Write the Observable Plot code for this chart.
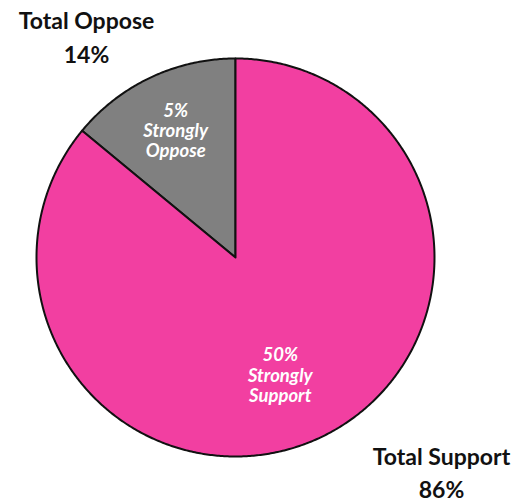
<!DOCTYPE html>
<html>
<head>
<meta charset="utf-8">
<script src="https://cdn.jsdelivr.net/npm/d3@7"></script>
<script src="https://cdn.jsdelivr.net/npm/@observablehq/plot@0.6"></script>
<style>
  html, body { margin: 0; padding: 0; background: #fff; }
  #chart svg { display: block; }
</style>
</head>
<body>
<div id="chart"></div>
<script>
// Data
const categories = ["Total Oppose", "Total Support"];
const totals = [14, 86];
const strongLabels = ["Strongly\nOppose", "Strongly\nSupport"];
const strongValues = [5, 50];
const colors = ["#808080", "#F23FA1"];

const W = 519, H = 502;

// Build wedges with d3.pie
const startA = -2 * Math.PI * totals[0] / d3.sum(totals);
const pie = d3.pie().sort(null).startAngle(startA).endAngle(startA + 2 * Math.PI);
const arcs = pie(totals);

const polyPts = [];
arcs.forEach((a, i) => {
  polyPts.push({cat: categories[i], x: 0, y: 0});
  const n = Math.max(2, Math.ceil((a.endAngle - a.startAngle) / (Math.PI / 360)));
  for (let k = 0; k <= n; k++) {
    const t = a.startAngle + (a.endAngle - a.startAngle) * k / n;
    polyPts.push({cat: categories[i], x: Math.sin(t), y: Math.cos(t)});
  }
});

// inner label anchors (centroid-like)
const inner = arcs.map((a, i) => {
  const m = (a.startAngle + a.endAngle) / 2;
  return {cat: categories[i], x: 0.67 * Math.sin(m), y: 0.67 * Math.cos(m),
          text: strongValues[i] + "%\n" + strongLabels[i]};
});

const font = "Lato, 'Open Sans', sans-serif";

const chart = Plot.plot({
  width: W, height: H,
  margin: 0,
  x: {domain: [-1, 1], range: [36, 434], axis: null},
  y: {domain: [-1, 1], range: [456, 58], axis: null},
  color: {domain: categories, range: colors},
  style: {background: "transparent"},
  marks: [
    Plot.line(polyPts, {x: "x", y: "y", z: "cat", fill: "cat", stroke: "#111", strokeWidth: 2,
      curve: "linear-closed", strokeLinejoin: "round"}),
    Plot.text([inner[0]], {x: "x", y: "y", text: "text", dx: -3, dy: -6, fill: "white",
      fontSize: 18.5, fontWeight: "bold", fontStyle: "italic", fontFamily: font,
      lineHeight: 1.08}),
    Plot.text([inner[1]], {x: "x", y: "y", text: "text", dx: -12, dy: -3, fill: "white",
      fontSize: 18.5, fontWeight: "bold", fontStyle: "italic", fontFamily: font,
      lineHeight: 1.1}),
    Plot.text([categories[0] + "\n" + totals[0] + "%"], {frameAnchor: "top-left", text: d => d,
      dx: 86, dy: 62, textAnchor: "middle", lineAnchor: "bottom",
      fontSize: 23, fontWeight: "bold", fontFamily: font, fill: "#111",
      lineHeight: 1.44}),
    Plot.text([categories[1] + "\n" + totals[1] + "%"], {frameAnchor: "top-left", text: d => d,
      dx: 441, dy: 497, textAnchor: "middle", lineAnchor: "bottom",
      fontSize: 23, fontWeight: "bold", fontFamily: font, fill: "#111",
      lineHeight: 1.4})
  ]
});
document.getElementById("chart").appendChild(chart);
</script>
</body>
</html>
